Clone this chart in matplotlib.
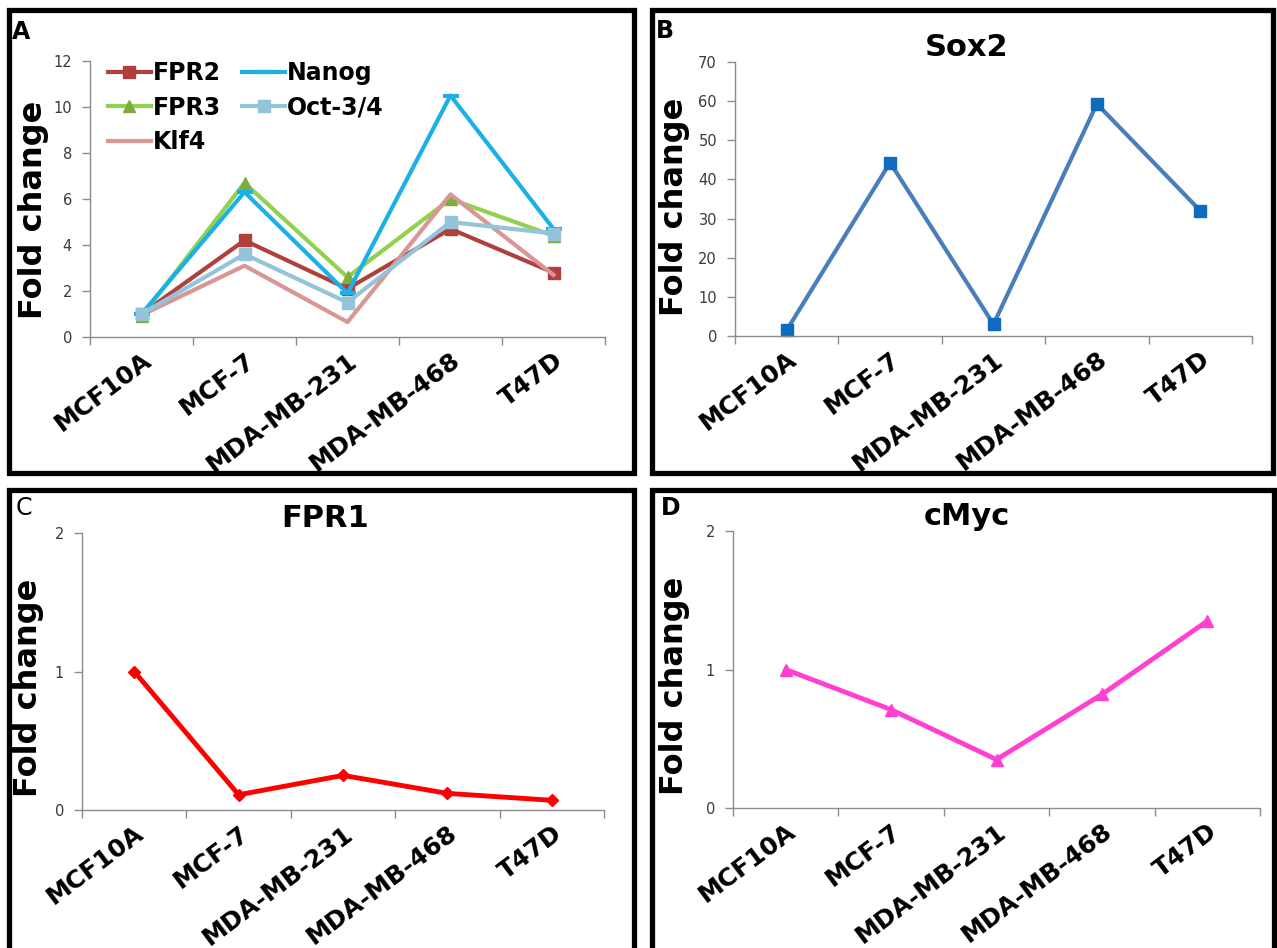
import matplotlib
matplotlib.use("Agg")
import matplotlib.pyplot as plt
from matplotlib.patches import Rectangle

# cell lines on the x axis
cell_lines = ["MCF10A", "MCF-7", "MDA-MB-231", "MDA-MB-468", "T47D"]

# panel A
fpr2 = [1.0, 4.2, 2.1, 4.7, 2.8]
fpr3 = [0.9, 6.7, 2.6, 6.0, 4.4]
klf4 = [0.95, 3.1, 0.65, 6.2, 2.7]
nanog = [1.0, 6.3, 1.9, 10.5, 4.7]
oct34 = [1.0, 3.6, 1.5, 5.0, 4.5]

# panels B, C, D
sox2 = [1.5, 44.3, 3.0, 59.3, 32.0]
fpr1 = [1.0, 0.11, 0.25, 0.12, 0.07]
cmyc = [1.0, 0.71, 0.35, 0.82, 1.35]

W, H = 1277, 948
fig = plt.figure(figsize=(W / 100, H / 100), dpi=100)
plt.rcParams['font.family'] = ['DejaVu Sans']

x = list(range(1, len(cell_lines) + 1))


def px_axes(x0, x1, y_top, y_bot):
    return fig.add_axes([x0 / W, 1 - y_bot / H, (x1 - x0) / W, (y_bot - y_top) / H])


def style(ax, ymax, ystep, label_xy):
    ax.set_xlim(0.5, len(cell_lines) + 0.5)
    ax.set_ylim(0, ymax)
    ax.set_yticks([i * ystep for i in range(int(round(ymax / ystep)) + 1)])
    for s in ["top", "right"]:
        ax.spines[s].set_visible(False)
    for s in ["left", "bottom"]:
        ax.spines[s].set_color("#8c8c8c")
        ax.spines[s].set_linewidth(1.0)
    # category boundaries carry the tick marks, centres carry the labels
    ax.set_xticks([i + 0.5 for i in range(0, len(cell_lines) + 1)])
    ax.set_xticklabels([])
    ax.set_xticks(x, minor=True)
    ax.set_xticklabels(cell_lines, minor=True, rotation=37, ha="right",
                       rotation_mode="anchor", fontsize=18, fontweight="heavy")
    ax.tick_params(axis="x", which="major", direction="out", length=6,
                   color="#8c8c8c", width=1)
    ax.tick_params(axis="x", which="minor", length=0, pad=8)
    ax.tick_params(axis="y", direction="out", length=6, color="#8c8c8c",
                   width=1, labelsize=10.5, labelcolor="#3a3a3a", pad=7)
    ax.set_ylabel("Fold change", fontsize=23, fontweight="bold")
    ax.yaxis.set_label_coords(*label_xy)


# ---- A ----
axA = px_axes(90, 605, 61, 337)
axA.plot(x, fpr2, color="#B0403E", lw=3, marker="s", ms=8, label="FPR2", clip_on=False)
axA.plot(x, fpr3, color="#92D050", lw=3, marker="^", ms=8, mfc="#7DAE3B",
         mec="#7DAE3B", label="FPR3", clip_on=False)
axA.plot(x, klf4, color="#D99695", lw=3, label="Klf4", clip_on=False)
axA.plot(x, nanog, color="#1BB1E7", lw=3, marker="_", ms=12, mew=3,
         label="Nanog", clip_on=False)
axA.plot(x, oct34, color="#93C4DA", lw=3, marker="s", ms=9, label="Oct-3/4",
         clip_on=False)
style(axA, 12, 2, (-0.08, 0.46))
leg = axA.legend(loc="upper left", bbox_to_anchor=(0.035, 1.0), ncol=2,
                 frameon=False, borderaxespad=0, borderpad=0,
                 handlelength=1.8, handletextpad=0.1, columnspacing=0.9,
                 labelspacing=0.45, prop={"weight": "bold", "size": 17})

# ---- B ----
axB = px_axes(735, 1252, 62, 336)
axB.plot(x, sox2, color="#4A7EBB", lw=3, marker="s", ms=8, mfc="#0F6BC0",
         mec="#0F6BC0", clip_on=False)
style(axB, 70, 10, (-0.087, 0.47))
axB.set_title("Sox2", fontsize=22, fontweight="bold", pad=4, x=0.447)

# ---- C ----
axC = px_axes(82, 604, 533, 810)
axC.plot(x, fpr1, color="#FF0000", lw=3.5, marker="D", ms=6, clip_on=False)
style(axC, 2, 1, (-0.073, 0.44))
axC.set_title("FPR1", fontsize=22, fontweight="bold", pad=3, x=0.466)

# ---- D ----
axD = px_axes(733, 1260, 531, 808)
axD.plot(x, cmyc, color="#FF40D0", lw=3.5, marker="^", ms=9, clip_on=False)
style(axD, 2, 1, (-0.082, 0.44))
axD.set_title("cMyc", fontsize=22, fontweight="bold", pad=0, x=0.444)

# panel frames
frames = [(8.5, 10, 633.5, 472.5), (651.5, 10, 1272.5, 472.5),
          (8.5, 489.5, 633.5, 970), (651.5, 489.5, 1274, 970)]
for x0, y0, x1, y1 in frames:
    fig.add_artist(Rectangle((x0 / W, 1 - y1 / H), (x1 - x0) / W, (y1 - y0) / H,
                             transform=fig.transFigure, fill=False,
                             edgecolor="black", linewidth=3.8, clip_on=False))

letters = [("A", 12, 20, "bold"), ("B", 656, 19, "bold"),
           ("C", 16, 496, "normal"), ("D", 661, 496, "bold")]
for t, lx, ly, wt in letters:
    fig.text(lx / W, 1 - ly / H, t, fontsize=17, fontweight=wt, va="top", ha="left")

fig.savefig("out.png", dpi=100)
